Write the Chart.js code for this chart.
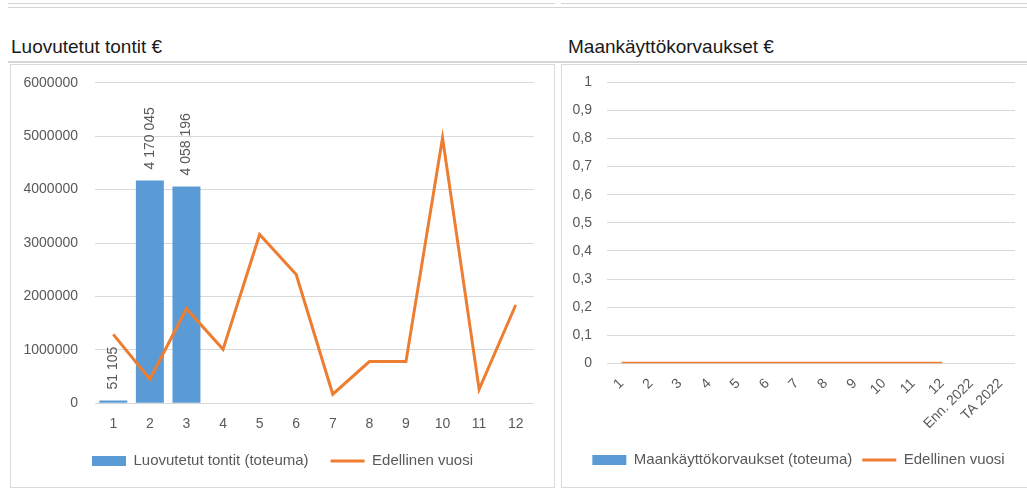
<!DOCTYPE html>
<html lang="fi">
<head>
  <meta charset="UTF-8">
  <title>Luovutetut tontit ja maankäyttökorvaukset</title>
  <script src="https://cdn.jsdelivr.net/npm/chart.js"></script>
  <style>
        html, body {
            margin: 0;
            padding: 0;
            background: #ffffff;
            overflow: hidden;
            width: 1027px;
            height: 493px;
            font-family: "Liberation Sans", Arial, sans-serif;
        }

        .rule {
            position: absolute;
            height: 1px;
            background: #d4d4d4;
        }

        .title {
            position: absolute;
            top: 36px;
            font-size: 19px;
            line-height: 22px;
            color: #1a1a1a;
            white-space: nowrap;
        }

        .panel {
            position: absolute;
            top: 64px;
            height: 424px;
            box-sizing: border-box;
            border: 1px solid #d9d9d9;
        }

        .panel canvas {
            position: absolute;
            left: 0;
            top: 0;
        }
    </style>
</head>
<body>
<div class="rule" style="top:3px; left:8px; width:547px;"></div>
<div class="rule" style="top:3px; left:561px; right:0;"></div>
<div class="rule" style="top:7px; left:8px; right:0;"></div>
<div class="rule" style="top:61px; left:8px; right:0; height:2px; background:#d6d6d6;"></div>

<div class="title" style="left:11px;">Luovutetut tontit €</div>
<div class="title" style="left:568px;">Maankäyttökorvaukset €</div>

<div class="panel" style="left:10px; width:545px;">
  <canvas id="tontitChart" width="543" height="422"></canvas>
</div>
<div class="panel" style="left:561px; width:475px;">
  <canvas id="korvausChart" width="473" height="422"></canvas>
</div>

<script>
    // kuukaudet ja arvot luettu kuvasta
    const months = ['1', '2', '3', '4', '5', '6', '7', '8', '9', '10', '11', '12'];
    const tontitToteuma = [51105, 4170045, 4058196, null, null, null, null, null, null, null, null, null];
    const tontitEdellinen = [1290000, 450000, 1770000, 1010000, 3160000, 2410000, 170000, 780000, 780000, 4970000, 260000, 1840000];
    const tontitTicks = [0, 1000000, 2000000, 3000000, 4000000, 5000000, 6000000];

    const korvausLabels = ['1', '2', '3', '4', '5', '6', '7', '8', '9', '10', '11', '12', 'Enn. 2022', 'TA 2022'];
    const korvausToteuma = [null, null, null, null, null, null, null, null, null, null, null, null, null, null];
    const korvausEdellinen = [0, 0, 0, 0, 0, 0, 0, 0, 0, 0, 0, 0, null, null];
    const korvausTicks = [0, 0.1, 0.2, 0.3, 0.4, 0.5, 0.6, 0.7, 0.8, 0.9, 1];

    const BLUE = '#5B9BD5';
    const ORANGE = '#ED7D31';
    const GRID = '#D9D9D9';
    const TEXT = '#595959';

    Chart.defaults.font.family = '"Liberation Sans", Arial, sans-serif';
    Chart.defaults.font.size = 14;
    Chart.defaults.color = TEXT;

    function spaced(v) {
        return String(v).replace(/\B(?=(\d{3})+(?!\d))/g, ' ');
    }

    // pystyyn käännetyt arvot pylväiden päälle
    const barValueLabels = {
        id: 'barValueLabels',
        afterDatasetsDraw(chart) {
            const meta = chart.getDatasetMeta(0);
            const values = chart.data.datasets[0].data;
            const ctx = chart.ctx;
            ctx.save();
            ctx.font = '14px "Liberation Sans", Arial, sans-serif';
            ctx.fillStyle = TEXT;
            ctx.textAlign = 'left';
            ctx.textBaseline = 'middle';
            meta.data.forEach((bar, i) => {
                if (values[i] === null || values[i] === undefined) return;
                ctx.save();
                ctx.translate(bar.x, bar.y - 11);
                ctx.rotate(-Math.PI / 2);
                ctx.fillText(spaced(values[i]), 0, 0);
                ctx.restore();
            });
            ctx.restore();
        }
    };

    function makeChart(canvasId, cfg) {
        const ctx = document.getElementById(canvasId).getContext('2d');
        return new Chart(ctx, {
            type: 'bar',
            data: {
                labels: cfg.labels,
                datasets: [{
                    label: cfg.barLabel,
                    data: cfg.barData,
                    backgroundColor: BLUE,
                    borderWidth: 0,
                    barPercentage: 0.765,
                    categoryPercentage: 1,
                    pointStyle: 'rect',
                    order: 1
                }, {
                    type: 'line',
                    label: 'Edellinen vuosi',
                    data: cfg.lineData,
                    borderColor: ORANGE,
                    backgroundColor: ORANGE,
                    borderWidth: 3,
                    pointRadius: 0,
                    pointStyle: 'line',
                    tension: 0,
                    order: 0
                }]
            },
            options: {
                responsive: false,
                animation: false,
                events: [],
                layout: {
                    padding: { left: 0, right: 0, top: cfg.padTop, bottom: cfg.padBottom }
                },
                plugins: {
                    tooltip: { enabled: false },
                    legend: {
                        position: 'bottom',
                        labels: {
                            usePointStyle: true,
                            pointStyleWidth: 34,
                            boxHeight: 10,
                            padding: cfg.legendPad,
                            color: TEXT,
                            font: { size: 15 },
                            sort: (a, b) => a.datasetIndex - b.datasetIndex
                        }
                    }
                },
                scales: {
                    x: {
                        grid: { display: false, drawTicks: false },
                        border: { display: false },
                        ticks: {
                            padding: cfg.xPad,
                            autoSkip: false,
                            minRotation: cfg.rotation,
                            maxRotation: cfg.rotation,
                            color: TEXT,
                            font: { lineHeight: cfg.xLineHeight }
                        },
                        afterFit: (axis) => { axis.height = cfg.xHeight; }
                    },
                    y: {
                        min: cfg.ticks[0],
                        max: cfg.ticks[cfg.ticks.length - 1],
                        afterBuildTicks: (axis) => { axis.ticks = cfg.ticks.map(v => ({ value: v })); },
                        grid: { color: GRID, lineWidth: 1, drawTicks: false },
                        border: { display: false },
                        ticks: {
                            padding: cfg.yPad,
                            color: TEXT,
                            callback: cfg.format
                        },
                        afterFit: (axis) => {
                            axis.width = cfg.yWidth;
                            axis.paddingTop = 0;
                            axis.paddingBottom = 0;
                        }
                    },
                    yr: {
                        position: 'right',
                        grid: { display: false, drawTicks: false },
                        border: { display: false },
                        ticks: { display: false },
                        afterFit: (axis) => {
                            axis.width = 20;
                            axis.paddingTop = 0;
                            axis.paddingBottom = 0;
                        }
                    }
                }
            },
            plugins: [barValueLabels]
        });
    }

    makeChart('tontitChart', {
        labels: months,
        barLabel: 'Luovutetut tontit (toteuma)',
        barData: tontitToteuma,
        lineData: tontitEdellinen,
        ticks: tontitTicks,
        format: (v) => String(v),
        padTop: 17.7,
        padBottom: 8.5,
        legendPad: 22,
        xPad: 13.7,
        xLineHeight: 1,
        xHeight: 28.2,
        rotation: 0,
        yPad: 17,
        yWidth: 84
    });

    makeChart('korvausChart', {
        labels: korvausLabels,
        barLabel: 'Maankäyttökorvaukset (toteuma)',
        barData: korvausToteuma,
        lineData: korvausEdellinen,
        ticks: korvausTicks,
        format: (v) => String(+Number(v).toFixed(1)).replace('.', ','),
        padTop: 17.3,
        padBottom: 9.5,
        legendPad: 10,
        xPad: 12,
        xLineHeight: 1.2,
        xHeight: 79.2,
        rotation: 45,
        yPad: 15,
        yWidth: 45
    });
</script>
</body>
</html>
